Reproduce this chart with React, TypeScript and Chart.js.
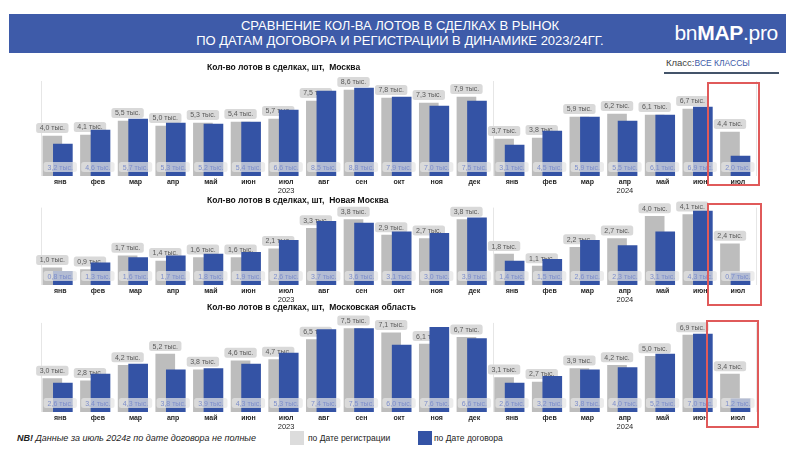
import React, { useEffect, useRef } from 'react';
import { Chart, registerables } from 'chart.js';
Chart.register(...registerables);

// ---------- data ----------
const months = ['янв', 'фев', 'мар', 'апр', 'май', 'июн', 'июл', 'авг', 'сен', 'окт', 'ноя', 'дек', 'янв', 'фев', 'мар', 'апр', 'май', 'июн', 'июл'];
const yearLabels = ['2023', '2024'];
const yearTickIndex = [6, 15];

const moscowReg = [4.0, 4.1, 5.5, 5.0, 5.3, 5.4, 5.7, 7.5, 8.6, 7.8, 7.3, 7.9, 3.7, 3.8, 5.9, 6.2, 6.1, 6.7, 4.4];
const moscowDog = [3.2, 4.6, 5.7, 5.3, 5.2, 5.4, 6.6, 8.5, 8.8, 7.9, 7.0, 7.5, 3.1, 4.5, 5.9, 5.5, 6.1, 6.9, 2.0];
const newMoscowReg = [1.0, 0.9, 1.7, 1.4, 1.6, 1.6, 2.1, 3.3, 3.8, 2.9, 2.7, 3.8, 1.8, 1.1, 2.2, 2.7, 4.0, 4.1, 2.4];
const newMoscowDog = [0.8, 1.3, 1.6, 1.7, 1.8, 1.9, 2.6, 3.7, 3.6, 3.1, 3.0, 3.9, 1.4, 1.5, 2.6, 2.3, 3.1, 4.3, 0.7];
const regionReg = [3.0, 2.8, 4.2, 5.2, 3.8, 4.6, 4.7, 6.5, 7.5, 7.1, 6.1, 6.7, 3.1, 2.7, 3.9, 4.2, 5.0, 6.9, 3.4];
const regionDog = [2.6, 3.4, 4.3, 3.8, 3.9, 4.3, 5.3, 7.4, 7.5, 6.0, 7.6, 6.6, 2.6, 3.2, 3.8, 4.0, 5.2, 7.0, 1.2];

const panelTitles = [
  'Кол-во лотов в сделках, шт,  Москва',
  'Кол-во лотов в сделках, шт,  Новая Москва',
  'Кол-во лотов в сделках, шт,  Московская область',
];
const legendLabels = ['по Дате регистрации', 'по Дате договора'];

// ---------- styles ----------
const GRAY = '#bdbdbd';
const BLUE = '#3453a5';
const HEADER = '#3e5ba9';
const RED = '#e05a5a';
const FONT = '"Liberation Sans", Arial, sans-serif';

Chart.defaults.font.family = FONT;

const fmt = (v: number) => v.toFixed(1).replace('.', ',') + ' тыс.';

function box(ctx: CanvasRenderingContext2D, x: number, y: number, w: number, h: number, r: number) {
  ctx.beginPath();
  if ((ctx as any).roundRect) (ctx as any).roundRect(x, y, w, h, r);
  else ctx.rect(x, y, w, h);
  ctx.fill();
}

const labelPlugin = {
  id: 'barLabels',
  beforeDatasetDraw(chart: any, args: any) {
    if (args.index !== 0) return;
    const meta = chart.getDatasetMeta(1);
    const ds = chart.data.datasets[1].data;
    const ctx: CanvasRenderingContext2D = chart.ctx;
    ctx.save();
    ctx.font = `7px ${FONT}`;
    ctx.textAlign = 'center';
    ctx.textBaseline = 'middle';
    meta.data.forEach((bar: any, i: number) => {
      const t = fmt(ds[i].y);
      const w = ctx.measureText(t).width + 7;
      const h = 10;
      const y = bar.y - 3 - h;
      ctx.fillStyle = '#d9d9d9';
      box(ctx, bar.x - w / 2, y, w, h, 2.5);
      ctx.fillStyle = '#595959';
      ctx.fillText(t, bar.x, y + h / 2 + 0.5);
    });
    ctx.restore();
  },
  afterDatasetsDraw(chart: any) {
    const ds = chart.data.datasets[0].data;
    const xs = chart.scales.x;
    const base = chart.scales.y.getPixelForValue(0);
    const ctx: CanvasRenderingContext2D = chart.ctx;
    ctx.save();
    ctx.font = `7px ${FONT}`;
    ctx.textAlign = 'center';
    ctx.textBaseline = 'middle';
    ds.forEach((_d: any, i: number) => {
      const cx = xs.getPixelForValue(i);
      const t = fmt(ds[i].y);
      const w = ctx.measureText(t).width + 8;
      const h = 10;
      const y = base - 4 - h;
      ctx.fillStyle = 'rgba(228,228,228,0.72)';
      box(ctx, cx - w / 2, y, w, h, 2.5);
      ctx.fillStyle = '#7d8ecb';
      ctx.fillText(t, cx, y + h / 2 + 0.5);
    });
    ctx.restore();
  },
};

type PanelProps = { reg: number[]; dog: number[]; top: number; height: number; padTop: number; max: number };

function Panel({ reg, dog, top, height, padTop, max }: PanelProps) {
  const ref = useRef<HTMLCanvasElement>(null);
  useEffect(() => {
    const chart = new Chart(ref.current as HTMLCanvasElement, {
      type: 'bar',
      data: {
        datasets: [
          {
            label: legendLabels[1],
            data: dog.map((v, i) => ({ x: i + 0.07, y: v })),
            backgroundColor: BLUE,
            barThickness: 19,
            grouped: false,
          } as any,
          {
            label: legendLabels[0],
            data: reg.map((v, i) => ({ x: i - 0.21, y: v })),
            backgroundColor: GRAY,
            barThickness: 19,
            grouped: false,
          } as any,
        ],
      },
      options: {
        animation: false,
        responsive: false,
        devicePixelRatio: 1,
        layout: { padding: { left: 41.4, right: 43.3, top: padTop, bottom: 0 } },
        plugins: { legend: { display: false }, tooltip: { enabled: false }, title: { display: false } },
        scales: {
          x: {
            type: 'linear',
            min: -0.5,
            max: 18.5,
            offset: false,
            position: 'bottom',
            afterBuildTicks: (s: any) => {
              s.ticks = months.map((_m, i) => ({ value: i }));
            },
            ticks: {
              autoSkip: false,
              maxRotation: 0,
              padding: 1.5,
              color: '#262626',
              font: { size: 7, weight: 'bold', family: FONT, lineHeight: 1.2 },
              callback: (_v: any, i: number) => months[i],
            },
            grid: {
              display: true,
              offset: true,
              drawTicks: false,
              tickLength: 0,
              lineWidth: 1,
              color: (c: any) => {
                const idx = c.type === 'tick' ? c.index : 19;
                return idx === 0 || idx === 12 || idx === 19 ? '#e6e6e6' : 'rgba(0,0,0,0)';
              },
            },
            border: { display: false },
          },
          x2: {
            type: 'linear',
            min: -0.5,
            max: 18.5,
            offset: false,
            position: 'bottom',
            afterBuildTicks: (s: any) => {
              s.ticks = yearTickIndex.map((v) => ({ value: v }));
            },
            ticks: {
              autoSkip: false,
              maxRotation: 0,
              padding: 0,
              color: '#262626',
              font: { size: 7.5, family: FONT, lineHeight: 1 },
              callback: (_v: any, i: number) => yearLabels[i],
            },
            grid: { display: false, drawTicks: false, tickLength: 0 },
            border: { display: false },
          },
          y: { display: false, min: 0, max },
        },
      } as any,
      plugins: [labelPlugin],
    });
    return () => chart.destroy();
  }, []);
  return (
    <canvas
      ref={ref}
      width={800}
      height={height}
      style={{ position: 'absolute', left: 0, top, width: 800, height }}
    />
  );
}

const abs = (o: any) => ({ position: 'absolute' as const, ...o });

export default function App() {
  const titleTops = [62, 195, 302];
  const redBoxes = [
    { left: 707, top: 82, width: 53, height: 104 },
    { left: 707, top: 203, width: 55, height: 103 },
    { left: 706, top: 320, width: 53, height: 108 },
  ];
  return (
    <div style={abs({ left: 0, top: 0, width: 800, height: 462, background: '#fff', overflow: 'hidden', fontFamily: FONT })}>
      {/* header band */}
      <div style={abs({ left: 9, top: 14, width: 777, height: 39, background: HEADER })} />
      <div style={abs({ left: 90, top: 18, width: 620, textAlign: 'center', color: '#fff', fontSize: 13, lineHeight: '15px' })}>
        СРАВНЕНИЕ КОЛ-ВА ЛОТОВ В СДЕЛКАХ В РЫНОК
        <br />
        ПО ДАТАМ ДОГОВОРА И РЕГИСТРАЦИИ В ДИНАМИКЕ 2023/24ГГ.
      </div>
      <div style={abs({ left: 640, top: 20, width: 138, textAlign: 'right', color: '#fff', fontSize: 21, lineHeight: '26px', letterSpacing: -0.3 })}>
        <span>bn</span>
        <span style={{ fontWeight: 'bold' }}>MAP</span>
        <span>.pro</span>
      </div>
      {/* class selector */}
      <div style={abs({ left: 666, top: 57, fontSize: 9.5, lineHeight: '12px', color: '#404040', whiteSpace: 'nowrap' })}>
        Класс:<span style={{ color: HEADER, fontSize: 8.5 }}>ВСЕ КЛАССЫ</span>
      </div>
      <div style={abs({ left: 664, top: 72, width: 115, height: 2, background: '#44546a' })} />

      {/* charts */}
      <Panel reg={moscowReg} dog={moscowDog} top={70} height={125} padTop={11} max={9.5} />
      <Panel reg={newMoscowReg} dog={newMoscowDog} top={198} height={106} padTop={9.6} max={4.5} />
      <Panel reg={regionReg} dog={regionDog} top={312} height={119} padTop={10.9} max={8} />

      {/* panel titles */}
      {panelTitles.map((t, i) => (
        <div key={i} style={abs({ left: 207, top: titleTops[i], fontSize: 8.5, fontWeight: 'bold', lineHeight: '10px', color: '#111', whiteSpace: 'pre' })}>
          {t}
        </div>
      ))}

      {/* highlight boxes */}
      {redBoxes.map((b, i) => (
        <div key={i} style={abs({ ...b, border: `2px solid ${RED}`, boxSizing: 'border-box', zIndex: 5 })} />
      ))}

      {/* footnote */}
      <div style={abs({ left: 17, top: 432, fontSize: 9, lineHeight: '12px', fontStyle: 'italic', color: '#222', whiteSpace: 'nowrap' })}>
        <b>NB!</b> Данные за июль 2024г по дате договора не полные
      </div>

      {/* legend */}
      <div style={abs({ left: 290, top: 431, width: 14, height: 14, background: '#dcdcdc' })} />
      <div style={abs({ left: 308, top: 432, fontSize: 8.5, lineHeight: '12px', color: '#222', whiteSpace: 'nowrap' })}>{legendLabels[0]}</div>
      <div style={abs({ left: 418, top: 431, width: 14, height: 14, background: BLUE })} />
      <div style={abs({ left: 434, top: 432, fontSize: 8.5, lineHeight: '12px', color: '#222', whiteSpace: 'nowrap' })}>{legendLabels[1]}</div>
    </div>
  );
}
